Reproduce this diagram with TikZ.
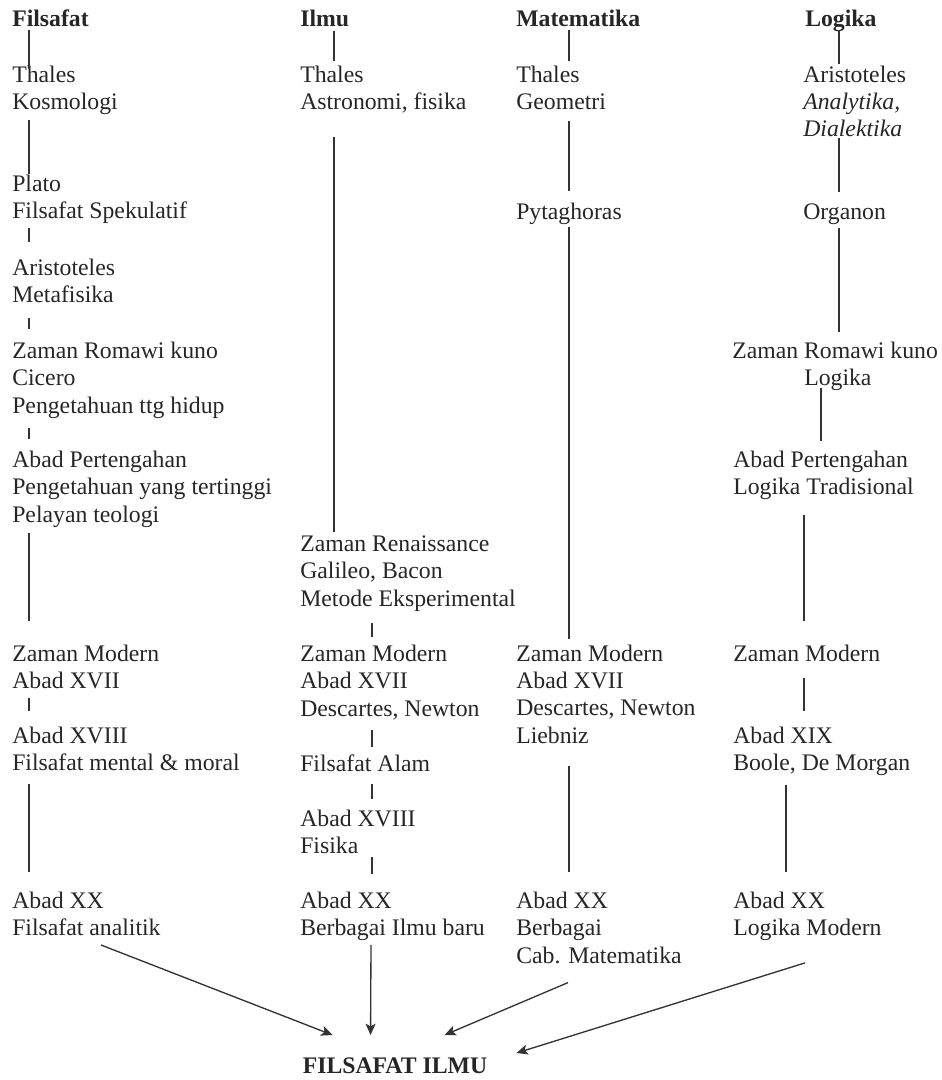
\documentclass[tikz,border=0pt]{standalone}
\usepackage{fontspec}
\setmainfont{Liberation Serif}
\usetikzlibrary{arrows.meta}

\begin{document}
\begin{tikzpicture}[x=0.75pt,y=-0.75pt,
    txt/.style={anchor=base west,align=left,inner sep=0pt,text=black!85,
      font=\fontsize{17.8}{20.6}\selectfont},
    hd/.style={txt,font=\fontsize{17.8}{20.6}\selectfont\bfseries},
    link/.style={black!80,line width=1pt},
    >={Stealth[length=8.5pt,width=7.5pt,inset=2pt]}]
\useasboundingbox (0,0) rectangle (941,1080);

% where the vertical lines run
\coordinate (fx) at (29,0);
\coordinate (ix) at (334,0);
\coordinate (iy) at (372,0);
\coordinate (mx) at (569,0);
\coordinate (lx) at (839,0);
\coordinate (ly) at (821,0);
\coordinate (lz) at (804,0);
\coordinate (lw) at (786,0);

% Filsafat (nodes sit on the baseline of their last line)
\node[hd] (fh) at (12,27) {Filsafat};
\node[txt] (f1) at (12,109.5) {Thales\\Kosmologi};
\node[txt] (f2) at (12,218.5) {Plato\\Filsafat Spekulatif};
\node[txt] (f3) at (12,302.5) {Aristoteles\\Metafisika};
\node[txt] (f4) at (12,413) {Zaman Romawi kuno\\Cicero\\Pengetahuan ttg hidup};
\node[txt] (f5) at (12,522) {Abad Pertengahan\\Pengetahuan yang tertinggi\\Pelayan teologi};
\node[txt] (f6) at (12,688.5) {Zaman Modern\\Abad XVII};
\node[txt] (f7) at (12,770.5) {Abad XVIII\\Filsafat mental \& moral};
\node[txt] (f8) at (12,935.5) {Abad XX\\Filsafat analitik};

% Ilmu
\node[hd] (ih) at (300,27) {Ilmu};
\node[txt] (i1) at (300,109.5) {Thales\\Astronomi, fisika};
\node[txt] (i2) at (300,606) {Zaman Renaissance\\Galileo, Bacon\\Metode Eksperimental};
\node[txt] (i3) at (300,716) {Zaman Modern\\Abad XVII\\Descartes, Newton};
\node[txt] (i4) at (300,771) {Filsafat Alam};
\node[txt] (i5) at (300,853.5) {Abad XVIII\\Fisika};
\node[txt] (i6) at (300,935.5) {Abad XX\\Berbagai Ilmu baru};

% Matematika
\node[hd] (mh) at (516,27) {Matematika};
\node[txt] (m1) at (516,109.5) {Thales\\Geometri};
\node[txt] (m2) at (516,220) {Pytaghoras};
\node[txt] (m3) at (516,743.4) {Zaman Modern\\Abad XVII\\Descartes, Newton\\Liebniz};
\node[txt] (m4) at (516,963) {Abad XX\\Berbagai\\Cab. Matematika};

% Logika
\node[hd] (lh) at (805,27) {Logika};
\node[txt] (l1) at (803,137) {Aristoteles\\\textit{Analytika,}\\\textit{Dialektika}};
\node[txt] (l2) at (803,220) {Organon};
\node[txt] (l3) at (732,385.5) {Zaman Romawi kuno\\\hspace*{54pt}Logika};
\node[txt] (l4) at (733,494.5) {Abad Pertengahan\\Logika Tradisional};
\node[txt] (l5) at (733,661) {Zaman Modern};
\node[txt] (l6) at (733,770.5) {Abad XIX\\Boole, De Morgan};
\node[txt] (l7) at (733,935.5) {Abad XX\\Logika Modern};

\node[hd,anchor=base] (fi) at (395,1073) {FILSAFAT ILMU};

\path[link]
  (fh.south -| fx) edge[shorten <=2.25pt,shorten >=-3pt] (f1.north -| fx)
  (f1.south -| fx) edge[shorten <=4pt,shorten >=0pt] (f2.north -| fx)
  (f2.south -| fx) edge[shorten <=3.4pt,shorten >=12pt] (f3.north -| fx)
  (f3.south -| fx) edge[shorten <=11.6pt,shorten >=9pt] (f4.north -| fx)
  (f4.south -| fx) edge[shorten <=7.5pt,shorten >=8.25pt] (f5.north -| fx)
  (f5.south -| fx) edge[shorten <=4.5pt,shorten >=17.25pt] (f6.north -| fx)
  (f6.south -| fx) edge[shorten <=6.4pt,shorten >=11.25pt] (f7.north -| fx)
  (f7.south -| fx) edge[shorten <=9.4pt,shorten >=14.25pt] (f8.north -| fx);

\path[link]
  (ih.south -| ix) edge[shorten <=2.25pt,shorten >=3pt] (i1.north -| ix)
  (i1.south -| ix) edge[shorten <=17.6pt,shorten >=2.25pt] (i2.north -| ix)
  (i2.south -| iy) edge[shorten <=9pt,shorten >=5.25pt] (i3.north -| iy)
  (i3.south -| iy) edge[shorten <=7.5pt,shorten >=5.25pt] (i4.north -| iy)
  (i4.south -| iy) edge[shorten <=9pt,shorten >=7.5pt] (i5.north -| iy)
  (i5.south -| iy) edge[shorten <=2.6pt,shorten >=12.75pt] (i6.north -| iy);

\path[link]
  (mh.south -| mx) edge[shorten <=2.25pt,shorten >=3pt] (m1.north -| mx)
  (m1.south -| mx) edge[shorten <=7.9pt,shorten >=9pt] (m2.north -| mx)
  (m2.south -| mx) edge[shorten <=1.5pt,shorten >=3.75pt] (m3.north -| mx)
  (m3.south -| mx) edge[shorten <=16.2pt,shorten >=14.25pt] (m4.north -| mx);

\path[link]
  (lh.south -| lx) edge[shorten <=-1.5pt,shorten >=0.75pt] (l1.north -| lx)
  (l1.south -| lx) edge[shorten <=0pt,shorten >=9pt] (l2.north -| lx)
  (l2.south -| lx) edge[shorten <=2.25pt,shorten >=6.75pt] (l3.north -| lx)
  (l3.south -| ly) edge[shorten <=-1.9pt,shorten >=6.75pt] (l4.north -| ly)
  (l4.south -| lz) edge[shorten <=11.6pt,shorten >=17.25pt] (l5.north -| lz)
  (l5.south -| lz) edge[shorten <=12pt,shorten >=11.25pt] (l6.north -| lz)
  (l6.south -| lw) edge[shorten <=7.1pt,shorten >=14.25pt] (l7.north -| lw);

\path[link,->]
  ([shift={(89,9)}]f8.south west) edge ([shift={(30,-22)}]fi.north west)
  ([shift={(71,4)}]i6.south west) edge ([shift={(68,-22)}]fi.north west)
  ([shift={(52,19)}]m4.south west) edge ([shift={(142,-22)}]fi.north west)
  ([shift={(72,22)}]l7.south west) edge ([shift={(29,-4)}]fi.north east);
\end{tikzpicture}
\end{document}
